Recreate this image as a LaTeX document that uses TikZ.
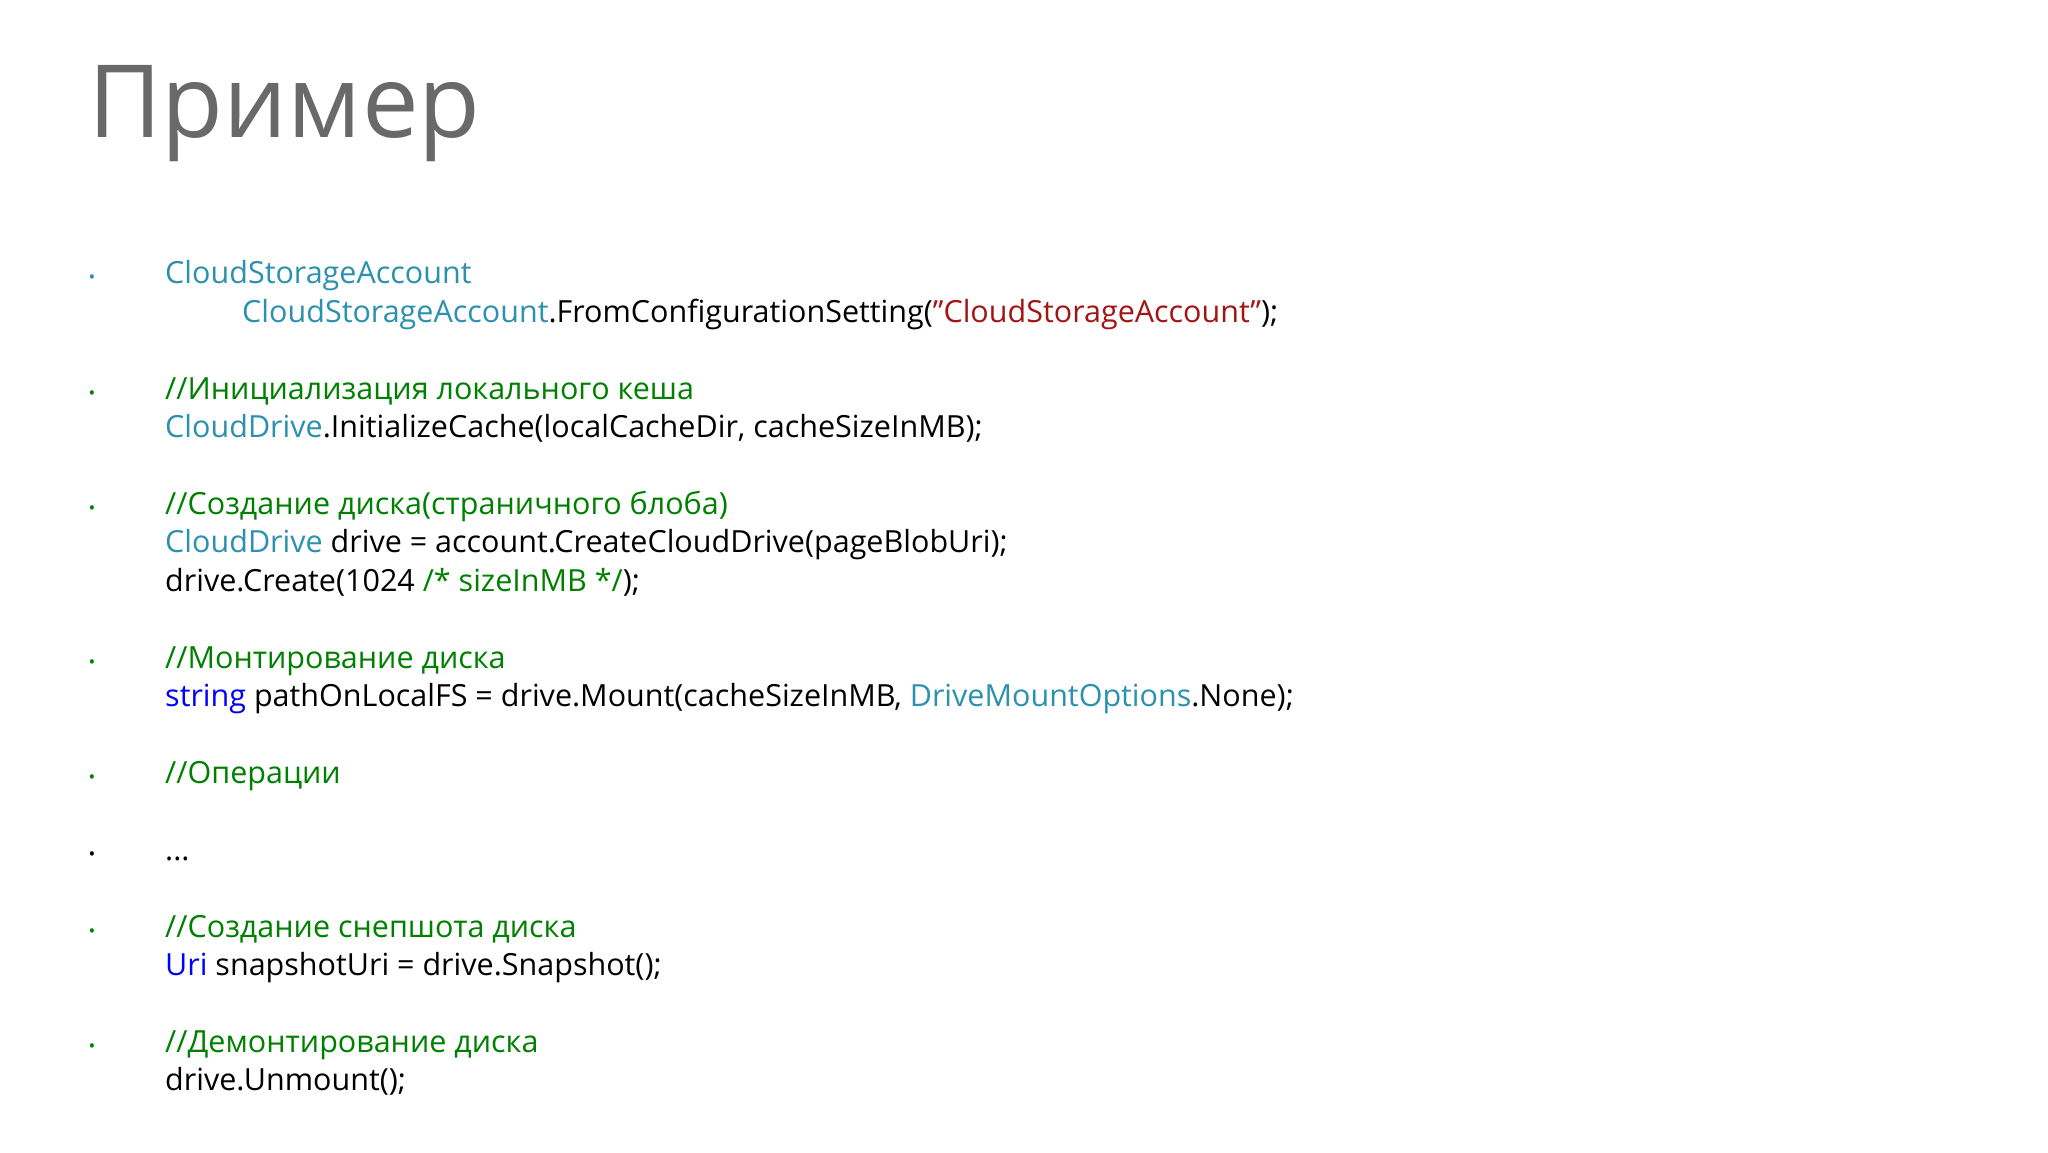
\documentclass[tikz,border=0pt]{standalone}
\usepackage{fontspec}
\setmainfont{Open Sans}
\definecolor{ty}{RGB}{43,145,175}
\definecolor{cm}{RGB}{0,128,0}
\definecolor{st}{RGB}{163,21,21}
\definecolor{kw}{RGB}{0,0,255}
\definecolor{tt}{RGB}{105,105,105}
\newcommand{\dq}{\symbol{34}}
\begin{document}
\begin{tikzpicture}[x=1pt,y=-1pt,
 ln/.style={anchor=mid west,inner sep=0,font=\fontsize{30.5}{32}\selectfont},
 bl/.style={anchor=center,inner sep=0,font=\fontsize{18}{20}\selectfont}]
\fill[white] (0,0) rectangle (2048,1152);
\node[anchor=base west,inner sep=0,text=tt,font=\fontsize{101}{110}\selectfont] (title) at (88,137) {Пример};
\foreach \y/\c [count=\i] in {273/ty,389/cm,504/cm,658/cm,773/cm,850/black,927/cm,1042/cm}
  \node[bl,text=\c] (b\i) at (92,\y+6) {•};
\begin{scope}[yshift=-8pt]
\node[ln] (l1) at (165,273) {\textcolor{ty}{CloudStorageAccount}};
\node[ln] (l2) at (242,312) {\textcolor{ty}{CloudStorageAccount}.FromConfigurationSetting(\textcolor{st}{\dq CloudStorageAccount\dq});};
\node[ln,text=cm] (l3) at (165,389) {//Инициализация локального кеша};
\node[ln] (l4) at (165,427) {\textcolor{ty}{CloudDrive}.InitializeCache(localCacheDir, cacheSizeInMB);};
\node[ln,text=cm] (l5) at (165,504) {//Создание диска(страничного блоба)};
\node[ln] (l6) at (165,542) {\textcolor{ty}{CloudDrive} drive = account.CreateCloudDrive(pageBlobUri);};
\node[ln] (l7) at (165,581) {drive.Create(1024 \textcolor{cm}{/* sizeInMB */});};
\node[ln,text=cm] (l8) at (165,658) {//Монтирование диска};
\node[ln] (l9) at (165,696) {\textcolor{kw}{string} pathOnLocalFS = drive.Mount(cacheSizeInMB, \textcolor{ty}{DriveMountOptions}.None);};
\node[ln,text=cm] (l10) at (165,773) {//Операции};
\node[ln] (l11) at (165,850) {...};
\node[ln,text=cm] (l12) at (165,927) {//Создание снепшота диска};
\node[ln] (l13) at (165,965) {\textcolor{kw}{Uri} snapshotUri = drive.Snapshot();};
\node[ln,text=cm] (l14) at (165,1042) {//Демонтирование диска};
\node[ln] (l15) at (165,1080) {drive.Unmount();};
\end{scope}
\end{tikzpicture}
\end{document}
